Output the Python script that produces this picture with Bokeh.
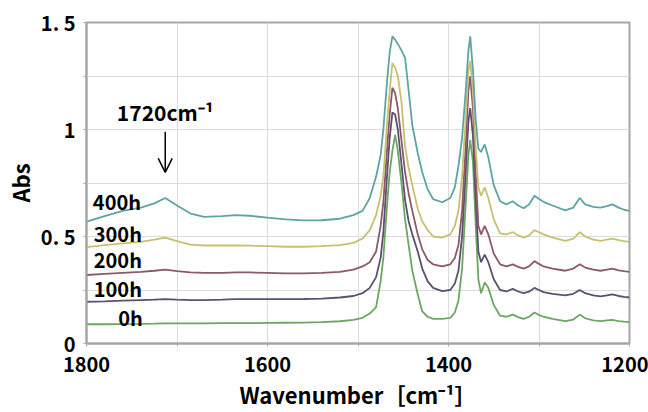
from bokeh.plotting import figure
from bokeh.models import Range1d, FixedTicker, Arrow, OpenHead, Label, ColumnDataSource
from bokeh.embed import file_html
from bokeh.resources import INLINE

# ---- data ----
wavenumber = [1800, 1780, 1760, 1740, 1725, 1713, 1700, 1685, 1670, 1650,
              1635, 1620, 1600, 1580, 1560, 1540, 1520, 1505, 1495, 1487,
              1480, 1475, 1472, 1468, 1465, 1462, 1459, 1456, 1452, 1448,
              1444, 1440, 1434, 1429, 1423, 1417, 1407, 1398, 1393, 1389,
              1385, 1381, 1378, 1376, 1373, 1370, 1367, 1364, 1360, 1356,
              1350, 1343, 1336, 1329, 1323, 1317, 1311, 1305, 1300, 1295,
              1285, 1271, 1262, 1255, 1249, 1240, 1232, 1225, 1219, 1212,
              1206, 1200]

abs_400h = [0.57, 0.595, 0.62, 0.635, 0.655, 0.68, 0.645, 0.607, 0.592, 0.595,
            0.60, 0.597, 0.588, 0.58, 0.575, 0.576, 0.583, 0.60, 0.62, 0.68,
            0.78, 0.88, 1.00, 1.22, 1.36, 1.435, 1.42, 1.40, 1.37, 1.335,
            1.18, 1.02, 0.89, 0.80, 0.72, 0.675, 0.66, 0.68, 0.73, 0.83,
            0.96, 1.18, 1.37, 1.435, 1.28, 1.05, 0.91, 0.895, 0.93, 0.87,
            0.74, 0.665, 0.65, 0.665, 0.645, 0.632, 0.65, 0.69, 0.675, 0.662,
            0.645, 0.622, 0.635, 0.68, 0.65, 0.638, 0.635, 0.642, 0.65, 0.635,
            0.625, 0.62]

abs_300h = [0.45, 0.46, 0.468, 0.475, 0.485, 0.495, 0.478, 0.462, 0.458, 0.458,
            0.458, 0.457, 0.455, 0.452, 0.452, 0.455, 0.46, 0.47, 0.49, 0.53,
            0.60, 0.69, 0.78, 1.02, 1.18, 1.31, 1.29, 1.25, 1.13, 0.92,
            0.82, 0.74, 0.63, 0.57, 0.53, 0.50, 0.495, 0.51, 0.55, 0.62,
            0.78, 1.05, 1.27, 1.32, 1.18, 0.92, 0.73, 0.69, 0.73, 0.68,
            0.58, 0.515, 0.51, 0.52, 0.505, 0.495, 0.505, 0.53, 0.52, 0.51,
            0.495, 0.48, 0.49, 0.52, 0.50, 0.485, 0.48, 0.485, 0.49, 0.483,
            0.478, 0.475]

abs_200h = [0.32, 0.325, 0.33, 0.335, 0.34, 0.345, 0.338, 0.332, 0.33, 0.33,
            0.332, 0.332, 0.33, 0.328, 0.328, 0.33, 0.335, 0.345, 0.36, 0.38,
            0.43, 0.55, 0.66, 0.90, 1.07, 1.195, 1.17, 1.10, 0.95, 0.80,
            0.70, 0.62, 0.51, 0.44, 0.39, 0.37, 0.36, 0.37, 0.40, 0.46,
            0.62, 0.92, 1.18, 1.25, 1.10, 0.80, 0.55, 0.51, 0.55, 0.51,
            0.42, 0.37, 0.36, 0.37, 0.358, 0.35, 0.36, 0.385, 0.372, 0.36,
            0.35, 0.34, 0.35, 0.37, 0.355, 0.345, 0.34, 0.345, 0.35, 0.342,
            0.338, 0.335]

abs_100h = [0.195, 0.197, 0.20, 0.203, 0.205, 0.207, 0.205, 0.203, 0.203, 0.205,
            0.207, 0.207, 0.207, 0.207, 0.208, 0.21, 0.215, 0.222, 0.235, 0.26,
            0.31, 0.40, 0.52, 0.78, 0.96, 1.08, 1.07, 1.00, 0.84, 0.67,
            0.57, 0.51, 0.43, 0.35, 0.29, 0.26, 0.245, 0.25, 0.28, 0.34,
            0.50, 0.80, 1.04, 1.10, 0.97, 0.68, 0.43, 0.38, 0.415, 0.38,
            0.30, 0.25, 0.243, 0.255, 0.243, 0.235, 0.242, 0.26, 0.25, 0.24,
            0.232, 0.225, 0.232, 0.25, 0.235, 0.225, 0.22, 0.225, 0.23, 0.222,
            0.218, 0.215]

abs_0h = [0.09, 0.09, 0.091, 0.092, 0.093, 0.094, 0.094, 0.094, 0.094, 0.095,
          0.095, 0.095, 0.096, 0.097, 0.098, 0.10, 0.104, 0.11, 0.12, 0.14,
          0.17, 0.29, 0.40, 0.64, 0.80, 0.90, 0.975, 0.90, 0.75, 0.58,
          0.46, 0.34, 0.23, 0.15, 0.125, 0.115, 0.115, 0.12, 0.145, 0.20,
          0.35, 0.65, 0.88, 0.95, 0.85, 0.56, 0.30, 0.235, 0.285, 0.26,
          0.18, 0.13, 0.125, 0.135, 0.123, 0.115, 0.125, 0.145, 0.133, 0.125,
          0.115, 0.105, 0.112, 0.135, 0.118, 0.108, 0.105, 0.108, 0.11, 0.105,
          0.102, 0.10]

series_names = ["0h", "100h", "200h", "300h", "400h"]
series_values = [abs_0h, abs_100h, abs_200h, abs_300h, abs_400h]
series_colors = ["#6aa862", "#5c4f70", "#8a5a68", "#c8c070", "#5ea4a4"]

x_ticks = [1800, 1700, 1600, 1500, 1400, 1300, 1200]
x_tick_labels = {1800: "1800", 1700: "", 1600: "1600", 1500: "", 1400: "1400", 1300: "", 1200: "1200"}
y_ticks = [0, 0.25, 0.5, 0.75, 1.0, 1.25, 1.5]
y_tick_labels = {0: "0", 0.25: "", 0.5: "0. 5", 0.75: "", 1: "1", 1.25: "", 1.5: "1. 5"}

FONT = "Noto Sans CJK JP"

p = figure(width=648, height=412, output_backend="svg", toolbar_location=None,
           x_range=Range1d(1800, 1200), y_range=Range1d(0, 1.5),
           min_border_left=86, min_border_right=19, min_border_top=22, min_border_bottom=68)

p.background_fill_color = "white"
p.border_fill_color = "white"
p.outline_line_color = "#a6a6a6"
p.outline_line_width = 2

for name, vals, col in zip(series_names, series_values, series_colors):
    src = ColumnDataSource(dict(x=wavenumber, y=vals))
    p.line("x", "y", source=src, line_color=col, line_width=1.8)

# axes
p.xaxis.ticker = FixedTicker(ticks=x_ticks)
p.xaxis.major_label_overrides = x_tick_labels
p.yaxis.ticker = FixedTicker(ticks=y_ticks)
p.yaxis.major_label_overrides = y_tick_labels
for ax in (p.xaxis[0], p.yaxis[0]):
    ax.axis_line_color = "#a6a6a6"
    ax.axis_line_width = 2
    ax.major_tick_line_color = "#a6a6a6"
    ax.major_tick_out = 3
    ax.major_tick_in = 0
    ax.minor_tick_line_color = None
    ax.major_label_text_font = FONT
    ax.major_label_text_font_style = "bold"
    ax.major_label_text_font_size = "20px"
    ax.major_label_text_color = "black"
    ax.axis_label_text_font = FONT
    ax.axis_label_text_font_style = "bold"
    ax.axis_label_text_font_size = "22px"
    ax.axis_label_text_color = "black"

p.xaxis.axis_label = "Wavenumber［cm⁻¹］"
p.yaxis.axis_label = "Abs"
p.xaxis.major_label_standoff = 10
p.xaxis.axis_label_standoff = 3
p.yaxis.major_label_standoff = 8
p.yaxis.axis_label_standoff = 2

p.xgrid.ticker = FixedTicker(ticks=x_ticks)
p.ygrid.ticker = FixedTicker(ticks=y_ticks)
p.grid.grid_line_color = "#dcdcdc"
p.grid.grid_line_width = 1

# series labels
label_pos = {"400h": (1793, 0.664), "300h": (1792, 0.516), "200h": (1792, 0.393),
             "100h": (1792, 0.257), "0h": (1765, 0.121)}
for txt, (lx, ly) in label_pos.items():
    p.add_layout(Label(x=lx, y=ly, text=txt, text_font=FONT, text_font_style="bold",
                       text_font_size="20px", text_color="black",
                       text_align="left", text_baseline="middle"))

# 1720 annotation
p.add_layout(Label(x=1713, y=1.08, text="1720cm⁻¹", text_font=FONT, text_font_style="bold",
                   text_font_size="21px", text_color="black",
                   text_align="center", text_baseline="middle"))
p.add_layout(Arrow(end=OpenHead(size=14, line_width=1.5, line_color="black"),
                   x_start=1713, y_start=0.99, x_end=1713, y_end=0.80,
                   line_width=1.5, line_color="black"))

open("out.html", "w").write(file_html(p, INLINE))
